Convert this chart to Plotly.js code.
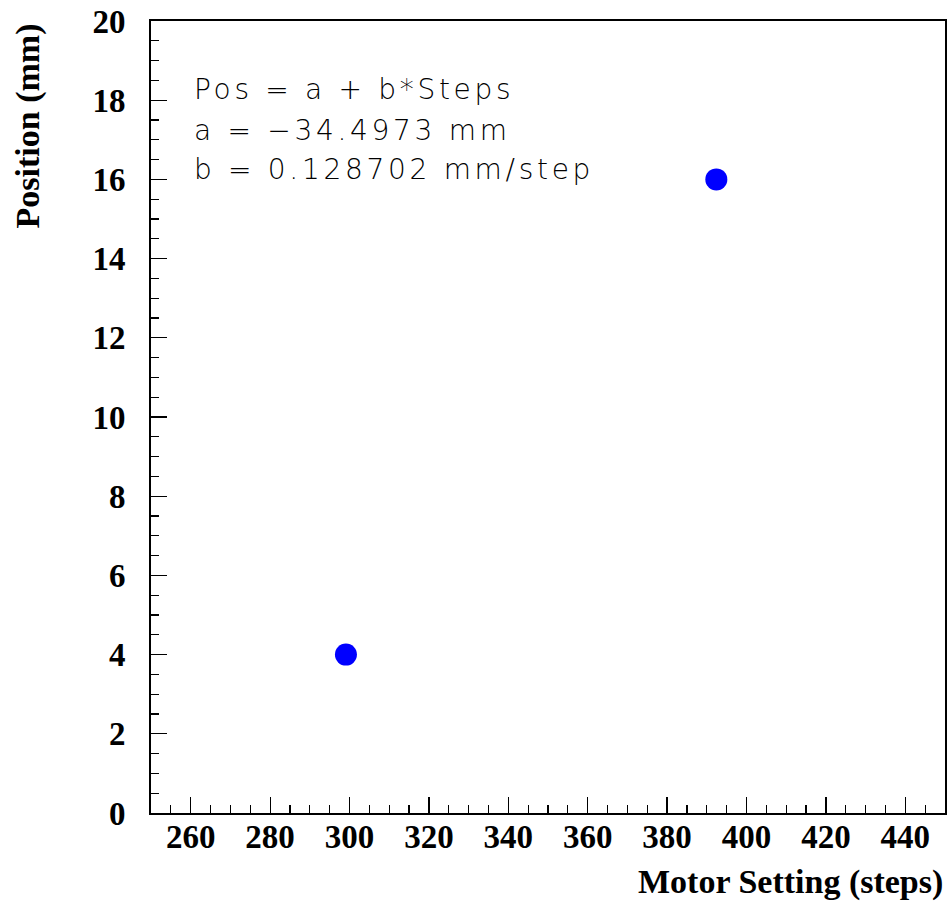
<!DOCTYPE html>
<html><head><meta charset="utf-8">
<script src="https://cdn.plot.ly/plotly-3.0.1.min.js"></script>
<style>
html,body{margin:0;padding:0;background:#fff}
.fitnote text{letter-spacing:3.7px}
</style>
</head><body>
<div id="chart" style="width:949px;height:904px"></div>
<script>
const motorSteps = [299.1, 392.4];
const positionMm = [4, 16];
const fitLines = ["Pos = a + b*Steps", "a = \u221234.4973 mm", "b = 0.128702 mm/step"];
const xTitle = "Motor Setting (steps)";
const yTitle = "Position (mm)";

const tickFont = {family: "Liberation Serif, Times New Roman, serif", size: 33, color: "#000", weight: 700};
const trace = {
  x: motorSteps, y: positionMm, type: "scatter", mode: "markers",
  marker: {color: "#0000ff", size: 22}, hoverinfo: "none"
};
const annotations = fitLines.map((t, i) => ({
  text: t, xref: "paper", yref: "paper", x: 0.052, y: [0.913, 0.862, 0.812][i],
  xanchor: "left", yanchor: "middle", align: "left", showarrow: false,
  font: {family: "DejaVu Sans, Liberation Sans, sans-serif", size: 28, color: "#000", weight: 200}
}));
annotations.push({text: "<b>" + xTitle + "</b>", xref: "paper", yref: "paper", x: 1.0, y: -0.087,
  xanchor: "right", yanchor: "middle", showarrow: false,
  font: {family: "Liberation Serif, Times New Roman, serif", size: 34, color: "#000"}});
annotations.push({text: "<b>" + yTitle + "</b>", xref: "paper", yref: "paper", x: -0.155, y: 1.0,
  xanchor: "center", yanchor: "top", textangle: -90, showarrow: false,
  font: {family: "Liberation Serif, Times New Roman, serif", size: 34, color: "#000"}});

const layout = {
  width: 949, height: 904,
  margin: {l: 151, r: 4, t: 21, b: 91},
  paper_bgcolor: "#fff", plot_bgcolor: "#fff",
  showlegend: false,
  xaxis: {range: [250, 450], dtick: 20, tick0: 260, ticks: "inside", ticklen: 16, tickwidth: 1.2,
    tickcolor: "#000", showline: true, linewidth: 2, linecolor: "#000", mirror: true,
    showgrid: false, zeroline: false, tickfont: tickFont, ticklabelstandoff: 0,
    minor: {dtick: 5, ticks: "inside", ticklen: 8, tickwidth: 1.2, tickcolor: "#000", showgrid: false}},
  yaxis: {range: [0, 20], dtick: 2, ticks: "inside", ticklen: 16, tickwidth: 1.2,
    tickcolor: "#000", showline: true, linewidth: 2, linecolor: "#000", mirror: true,
    showgrid: false, zeroline: false, tickfont: tickFont, ticklabelstandoff: 17,
    minor: {dtick: 0.5, ticks: "inside", ticklen: 8, tickwidth: 1.2, tickcolor: "#000", showgrid: false}},
  annotations: annotations
};
Plotly.newPlot("chart", [trace], layout, {displayModeBar: false, staticPlot: true}).then(() => {
  document.querySelectorAll("#chart .annotation").forEach((g, i) => { if (i < fitLines.length) g.classList.add("fitnote"); });
  document.querySelectorAll("#chart .xtick text").forEach(t => {
    const y = parseFloat(t.getAttribute("y") || "0");
    t.setAttribute("y", y - 7);
  });
});
</script>
</body></html>
